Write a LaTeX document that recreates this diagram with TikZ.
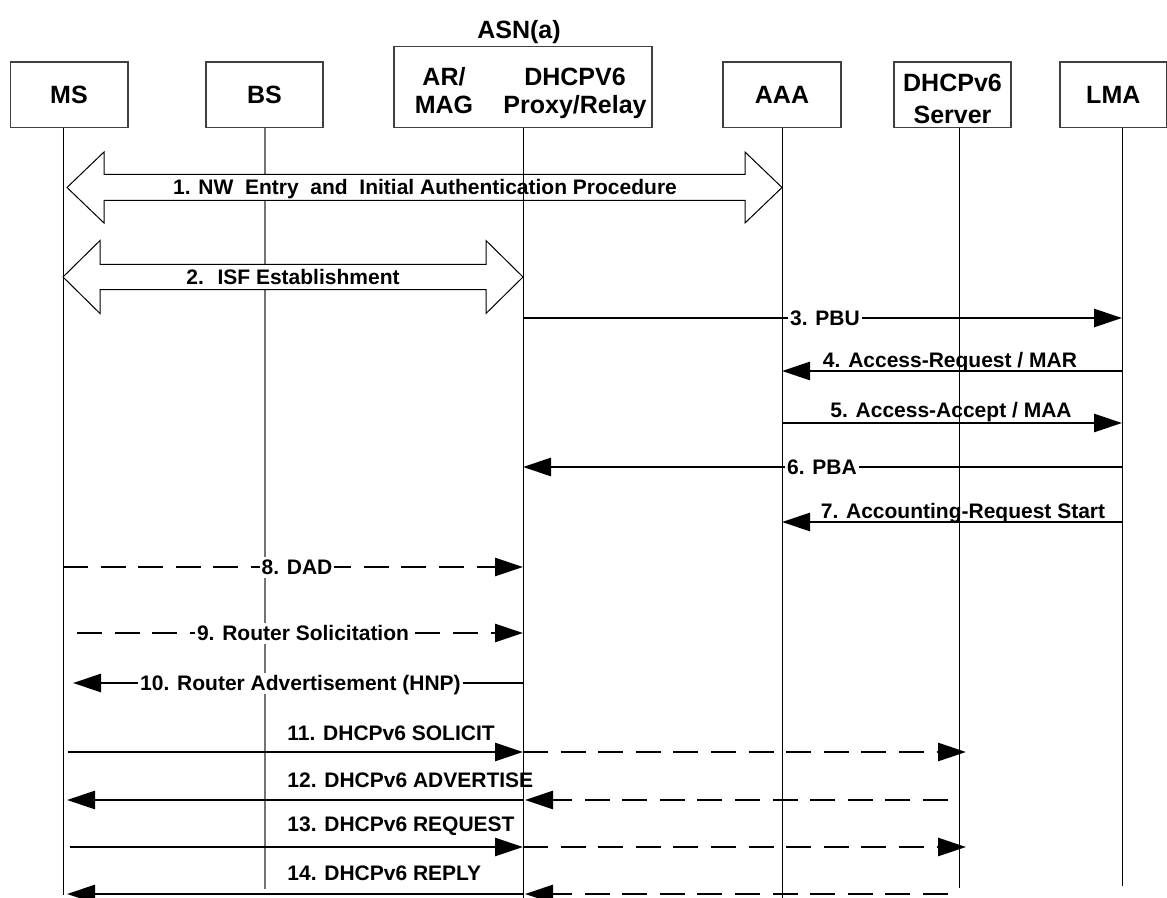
\documentclass[tikz,border=0pt]{standalone}
\usepackage{fontspec}
\setmainfont{Liberation Sans}
\usetikzlibrary{arrows.meta}

\begin{document}
\begin{tikzpicture}[x=0.5pt, y=-0.5pt] % one unit = one pixel, y grows downwards
\tikzstyle{entity} = [draw=black!75, line width=0.8pt, font=\fontsize{12.5}{15}\selectfont\bfseries, inner sep=0pt] % header box
\tikzstyle{hdtext} = [font=\fontsize{12.5}{15}\selectfont\bfseries, anchor=base, inner sep=0pt] % header text on a baseline
\tikzstyle{life} = [line width=0.5pt] % lifeline
\tikzstyle{msg} = [line width=1.4pt, -{Triangle[length=14pt, width=9pt]}] % message
\tikzstyle{dmsg} = [msg, dash pattern=on 12.5pt off 6.3pt] % relayed / optional message
\tikzstyle{lbl} = [font=\fontsize{10.5}{12.6}\selectfont\bfseries, inner sep=1pt, text height=8pt, text depth=0.5pt] % message text
\tikzstyle{cut} = [lbl, fill=white] % text sitting on the line
\tikzstyle{block} = [draw, line width=0.5pt, fill=white] % two-way block arrow

\useasboundingbox (0,0) rectangle (1167,898);

% header boxes
\node[entity, minimum width=58.7pt, minimum height=32.7pt] (ms) at (69,95) {MS};
\node[entity, minimum width=58.5pt, minimum height=32.7pt] (bs) at (264.5,95) {BS};
\node[entity, minimum width=129pt, minimum height=40.5pt] (asn) at (523,87.2) {};
\node[hdtext] (asnname) at (519,39) {ASN(a)};
\node[hdtext] (ar) at (444,86) {AR/};
\node[hdtext] (mag) at (444,113.3) {MAG};
\node[hdtext] (dhcpv) at (575,86) {DHCPV6};
\node[hdtext] (relay) at (575,113.3) {Proxy/Relay};
\node[entity, minimum width=59pt, minimum height=32.7pt] (aaa) at (782,95) {AAA};
\node[entity, minimum width=58.5pt, minimum height=32.7pt] (srv) at (952.5,95) {};
\node[hdtext] (srvname) at (952.5,91.7) {DHCPv6};
\node[hdtext] (srvrole) at (952.5,123.5) {Server};
\node[entity, minimum width=53.3pt, minimum height=32.7pt] (lma) at (1113.3,95) {LMA};

% lifeline ends
\coordinate (ms-l) at (63,128);   \coordinate (ms-e) at (63,895);
\coordinate (bs-l) at (265,128);  \coordinate (bs-e) at (265,889);
\coordinate (asn-l) at (523,128); \coordinate (asn-e) at (523,898);
\coordinate (aaa-l) at (782,128); \coordinate (aaa-e) at (782,898);
\coordinate (srv-l) at (959,128); \coordinate (srv-e) at (959,888);
\coordinate (lma-l) at (1122,128);\coordinate (lma-e) at (1122,886);

% message rows
\foreach \n/\y in {1/187.5, 2/277, 3/318, 4/371, 5/423, 6/467, 7/522, 8/567, 9/633, 10/683, 11/752, 12/800, 13/847, 14/894}
  \coordinate (r\n) at (0,\y);

\draw[life] (ms-l) -- (ms-e);
\draw[life, draw=black!55, line width=0.9pt] (bs-l) -- (bs-e);

% 1, 2: block arrows
\coordinate (b1l) at ([xshift=2pt]ms-l |- r1);
\coordinate (b1r) at (aaa-l |- r1);
\draw[block] (b1l) -- ++(37,-35.5) -- ++(0,22.5) -- ++(641,0) -- ++(0,-22.5) -- (b1r)
  -- ++(-37,35.5) -- ++(0,-22.5) -- ++(-641,0) -- ++(0,22.5) -- cycle;
\node[lbl] (t1) at (425,187.5) {1. NW~ Entry~ and~ Initial Authentication Procedure};
\coordinate (b2l) at (ms-l |- r2);
\coordinate (b2r) at (asn-l |- r2);
\draw[block] (b2l) -- ++(37,-36.5) -- ++(0,23.8) -- ++(386,0) -- ++(0,-23.8) -- (b2r)
  -- ++(-37,36.5) -- ++(0,-23.8) -- ++(-386,0) -- ++(0,23.8) -- cycle;
\node[lbl] (t2) at (293,277) {2.~ ISF Establishment};

\draw[life] (asn-l) -- (asn-e);
\draw[life] (aaa-l) -- (aaa-e);
\draw[life] (srv-l) -- (srv-e);
\draw[life] (lma-l) -- (lma-e);

% 3 - 7: ASN, AAA and LMA
\draw[msg] (asn-l |- r3) -- (lma-l |- r3);
\node[cut] (t3) at (825,318) {3. PBU};
\draw[msg] (lma-l |- r4) -- (aaa-l |- r4);
\node[lbl] (t4) at (950,360) {4. Access-Request / MAR};
\draw[msg] (aaa-l |- r5) -- (lma-l |- r5);
\node[lbl] (t5) at (951,410.5) {5. Access-Accept / MAA};
\draw[msg] (lma-l |- r6) -- (asn-l |- r6);
\node[cut] (t6) at (822,467) {6. PBA};
\draw[msg] (lma-l |- r7) -- (aaa-l |- r7);
\node[lbl] (t7) at (963,511) {7. Accounting-Request Start};

% 8 - 10: MS and AR/MAG
\draw[dmsg] (ms-l |- r8) -- (asn-l |- r8);
\node[cut] (t8) at (297,567) {8. DAD};
\draw[dmsg] ([xshift=7pt]ms-l |- r9) -- (asn-l |- r9);
\node[cut] (t9) at (303,633) {9. Router Solicitation};
\draw[msg] (asn-l |- r10) -- ([xshift=5pt]ms-l |- r10);
\node[cut] (t10) at (300.5,683) {10. Router Advertisement (HNP)};

% 11 - 14: DHCPv6 through the relay
\draw[msg] ([xshift=2.5pt]ms-l |- r11) -- (asn-l |- r11);
\draw[dmsg] (asn-l |- r11) -- ([xshift=3.5pt]srv-l |- r11);
\node[lbl, anchor=west] (t11) at (285,732.5) {11. DHCPv6 SOLICIT};
\draw[dmsg] ([xshift=-5.5pt]srv-l |- r12) -- ([xshift=1pt]asn-l |- r12);
\draw[msg] (asn-l |- r12) -- ([xshift=2pt]ms-l |- r12);
\node[lbl, anchor=west] (t12) at (285,779.5) {12. DHCPv6 ADVERTISE};
\draw[msg] ([xshift=3.5pt]ms-l |- r13) -- (asn-l |- r13);
\draw[dmsg] (asn-l |- r13) -- ([xshift=3.5pt]srv-l |- r13);
\node[lbl, anchor=west] (t13) at (285,824) {13. DHCPv6 REQUEST};
\draw[dmsg] ([xshift=-5.5pt]srv-l |- r14) -- ([xshift=1pt]asn-l |- r14);
\draw[msg] (asn-l |- r14) -- ([xshift=2pt]ms-l |- r14);
\node[lbl, anchor=west] (t14) at (285,872.5) {14. DHCPv6 REPLY};
\end{tikzpicture}
\end{document}
